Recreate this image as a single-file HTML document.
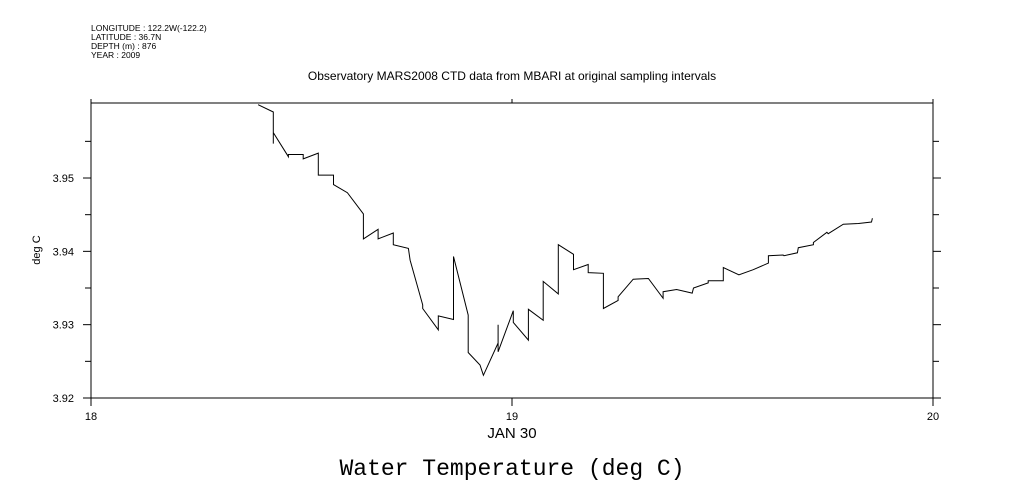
<!DOCTYPE html>
<html><head><meta charset="utf-8"><style>
html,body{margin:0;padding:0;background:#fff;}
svg{display:block;font-family:"Liberation Sans",sans-serif;}
</style></head><body>
<svg id="chart" width="1009" height="504" viewBox="0 0 1009 504" xmlns="http://www.w3.org/2000/svg">
<rect width="1009" height="504" fill="#fff"/>
<g font-size="8.5" fill="#000">
<text x="91" y="31">LONGITUDE : 122.2W(-122.2)</text>
<text x="91" y="40">LATITUDE : 36.7N</text>
<text x="91" y="49">DEPTH (m) : 876</text>
<text x="91" y="58">YEAR : 2009</text>
</g>
<text x="512" y="80" text-anchor="middle" font-size="12">Observatory MARS2008 CTD data from MBARI at original sampling intervals</text>
<rect x="91" y="103" width="842" height="295" fill="none" stroke="#000" stroke-width="1"/>
<g id="axes"></g>
<g id="series"></g>
<text x="512" y="438" text-anchor="middle" font-size="15">JAN 30</text>
<text x="40" y="250" text-anchor="middle" font-size="11" transform="rotate(-90 40 250)">deg C</text>
<text x="512" y="475" text-anchor="middle" font-size="23" font-family="'Liberation Mono','Liberation Serif',monospace">Water Temperature (deg C)</text>
</svg>
<script>
const times = [18.397,18.433,18.433,18.433,18.469,18.469,18.504,18.504,18.540,18.540,18.576,18.576,18.609,18.647,18.647,18.682,18.682,18.718,18.718,18.754,18.758,18.788,18.788,18.825,18.825,18.861,18.861,18.896,18.896,18.924,18.932,18.967,18.967,18.967,19.003,19.003,19.039,19.039,19.074,19.074,19.110,19.110,19.146,19.146,19.181,19.181,19.217,19.217,19.252,19.252,19.288,19.324,19.359,19.359,19.391,19.428,19.431,19.466,19.466,19.502,19.502,19.539,19.573,19.609,19.609,19.644,19.646,19.678,19.680,19.716,19.716,19.748,19.751,19.787,19.823,19.854,19.856];
const temps = [3.9600,3.9590,3.9547,3.9562,3.9529,3.9532,3.9532,3.9526,3.9534,3.9504,3.9504,3.9491,3.9480,3.9451,3.9417,3.9430,3.9417,3.9425,3.9409,3.9404,3.9388,3.9327,3.9322,3.9293,3.9312,3.9307,3.9393,3.9313,3.9262,3.9245,3.9231,3.9275,3.9300,3.9263,3.9319,3.9303,3.9279,3.9321,3.9306,3.9359,3.9342,3.9409,3.9396,3.9375,3.9382,3.9371,3.9370,3.9322,3.9333,3.9338,3.9362,3.9363,3.9336,3.9345,3.9348,3.9343,3.9350,3.9357,3.9360,3.9360,3.9378,3.9368,3.9375,3.9384,3.9394,3.9395,3.9394,3.9398,3.9405,3.9409,3.9412,3.9426,3.9424,3.9437,3.9438,3.9440,3.9445];
const xTicks = [18,19,20];
const xTickLabels = ["18","19","20"];
const yTicks = [3.92,3.93,3.94,3.95];
const yTickLabels = ["3.92","3.93","3.94","3.95"];
const yMinorTicks = [3.925,3.935,3.945,3.955];

const X0=91,X1=933,Y0=398,Y1=103,TMIN=18,TMAX=20,VMIN=3.92,VMAX=3.96023;
function xs(t){return X0+(t-TMIN)/(TMAX-TMIN)*(X1-X0);}
function ys(v){return Y0-(v-VMIN)/(VMAX-VMIN)*(Y0-Y1);}
const NS="http://www.w3.org/2000/svg";
const axes=document.getElementById('axes');
function line(p,x1,y1,x2,y2,name){const l=document.createElementNS(NS,'line');
l.setAttribute('x1',x1);l.setAttribute('y1',y1);l.setAttribute('x2',x2);l.setAttribute('y2',y2);
l.setAttribute('stroke','#000');l.setAttribute('stroke-width','1');


p.appendChild(l);}
function text(p,x,y,s,anchor,size,name){const t=document.createElementNS(NS,'text');
t.setAttribute('x',x);t.setAttribute('y',y);t.setAttribute('text-anchor',anchor);t.setAttribute('font-size',size);t.textContent=s;


p.appendChild(t);}
xTicks.forEach((t,i)=>{const x=xs(t);
line(axes,x,Y0,x,Y0+8,'x-tick');
line(axes,x,Y1,x,Y1-4,'x-tick-top');
text(axes,x,Y0+22,xTickLabels[i],'middle',11,'x-tick-label');});
yTicks.forEach((v,i)=>{const y=ys(v);
line(axes,X0-8,y,X0,y,'y-tick');
line(axes,X1,y,X1+8,y,'y-tick-right');
text(axes,X0-17,y+4,yTickLabels[i],'end',11,'y-tick-label');});
yMinorTicks.forEach(v=>{const y=ys(v);
line(axes,X0-6,y,X0,y,'y-minor-tick');
line(axes,X1,y,X1+6,y,'y-minor-tick-right');});
const series=document.getElementById('series');
const cp=document.createElementNS(NS,'clipPath');cp.setAttribute('id','clip');
const cr=document.createElementNS(NS,'rect');cr.setAttribute('x',X0);cr.setAttribute('y',Y1);cr.setAttribute('width',X1-X0);cr.setAttribute('height',Y0-Y1);
cp.appendChild(cr);document.getElementById('chart').appendChild(cp);
const pl=document.createElementNS(NS,'polyline');
pl.setAttribute('points',times.map((t,i)=>xs(t).toFixed(1)+','+ys(temps[i]).toFixed(1)).join(' '));
pl.setAttribute('fill','none');pl.setAttribute('stroke','#000');pl.setAttribute('stroke-width','1');
pl.setAttribute('clip-path','url(#clip)');


series.appendChild(pl);
</script>
</body></html>
